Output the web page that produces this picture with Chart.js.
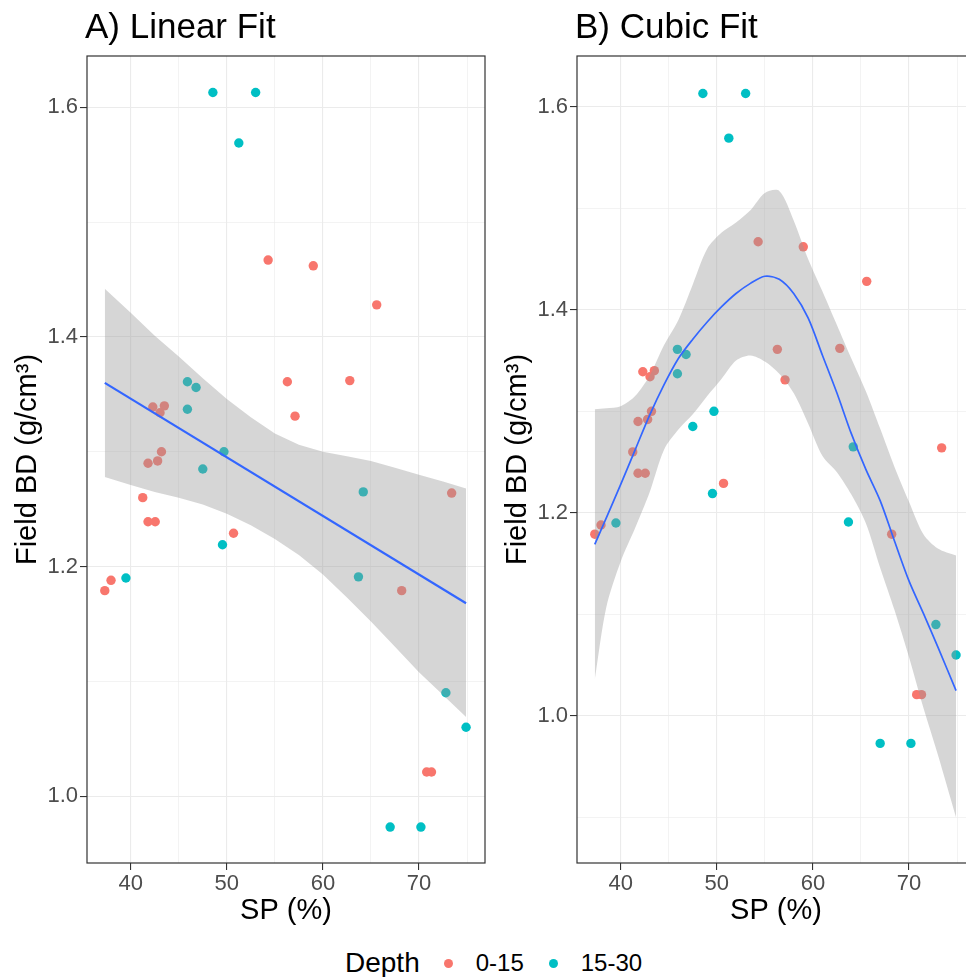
<!DOCTYPE html>
<html>
<head>
<meta charset="utf-8">
<script src="https://cdn.jsdelivr.net/npm/chart.js@4.4.0/dist/chart.umd.min.js"></script>
<style>
  html, body { margin: 0; padding: 0; background: #fff; width: 966px; height: 977px; overflow: hidden; }
  .panel { position: absolute; top: 0; width: 490px; height: 940px; }
  #panelA { left: 0; }
  #panelB { left: 490px; }
  #legend { position: absolute; left: 345px; top: 943px; height: 40px; display: flex; align-items: center;
            font-family: Arial, "Liberation Sans", sans-serif; color: #000; white-space: nowrap; }
  #legend .head { font-size: 28px; margin-right: 24px; }
  #legend .dot { width: 9px; height: 9px; border-radius: 50%; margin-right: 23px; }
  #legend .lab { font-size: 24px; margin-right: 25px; }
</style>
</head>
<body>
<canvas id="panelA" class="panel" width="490" height="940"></canvas>
<canvas id="panelB" class="panel" width="490" height="940"></canvas>
<div id="legend"></div>
<script>
// Depth groups
const depthLevels = ['0-15', '15-30'];
const depthColors = ['#F8766D', '#00BFC4'];

// observations, SP (%) vs field bulk density
const sp0015 = [54.3, 59.0, 65.6, 42.3, 43.5, 43.05, 56.3, 62.8, 57.1, 43.2, 41.8,
                42.8, 73.4, 41.25, 41.8, 42.55, 50.7, 37.95, 37.3, 68.2, 70.8, 71.3];
const bd0015 = [1.467, 1.462, 1.428, 1.339, 1.340, 1.334, 1.361, 1.362, 1.331, 1.300, 1.290,
                1.292, 1.264, 1.260, 1.239, 1.239, 1.229, 1.188, 1.179, 1.179, 1.021, 1.021];
const sp1530 = [48.55, 53.0, 51.25, 45.9, 46.8, 45.9, 49.7, 47.5, 64.2, 49.55, 39.5,
                63.7, 72.8, 74.9, 67.0, 70.2];
const bd1530 = [1.613, 1.613, 1.569, 1.361, 1.356, 1.337, 1.300, 1.285, 1.265, 1.219, 1.190,
                1.191, 1.090, 1.060, 0.973, 0.973];

// A) linear fit and its confidence band
const linearX = [37.3, 74.9];
const linearFit = [1.360, 1.168];
const linearBandX = [37.3, 40, 42.5, 45, 47.5, 50, 52.5, 55, 57.5, 60, 62.5, 65, 67.5, 70, 72.5, 74.9];
const linearUpper = [1.442, 1.421, 1.401, 1.383, 1.364, 1.346, 1.330, 1.316, 1.306, 1.300, 1.296, 1.292, 1.286, 1.280, 1.274, 1.268];
const linearLower = [1.278, 1.271, 1.265, 1.260, 1.254, 1.246, 1.236, 1.224, 1.210, 1.193, 1.173, 1.152, 1.130, 1.108, 1.088, 1.069];

// B) cubic fit and its confidence band
const cubicX = [37.3, 38.5, 40, 41.5, 43, 44.5, 46, 47.5, 49, 50.5, 52, 53.5, 55,
                56.5, 58, 59.5, 61, 62.5, 64, 65.5, 67, 68.5, 70, 71.5, 73, 74.9];
const cubicFit = [1.169, 1.195, 1.228, 1.262, 1.296, 1.326, 1.352, 1.371, 1.388, 1.403, 1.416, 1.426, 1.433,
                  1.430, 1.416, 1.392, 1.355, 1.318, 1.278, 1.243, 1.212, 1.172, 1.133, 1.101, 1.068, 1.025];
const cubicUpper = [1.302, 1.303, 1.305, 1.315, 1.335, 1.365, 1.390, 1.425, 1.460, 1.476, 1.486, 1.498, 1.515,
                    1.517, 1.488, 1.450, 1.418, 1.385, 1.352, 1.320, 1.283, 1.245, 1.211, 1.179, 1.165, 1.158];
const cubicLower = [1.036, 1.107, 1.152, 1.185, 1.220, 1.262, 1.282, 1.297, 1.315, 1.332, 1.350, 1.355, 1.349,
                    1.337, 1.318, 1.288, 1.256, 1.240, 1.218, 1.190, 1.146, 1.104, 1.058, 1.008, 0.962, 0.900];

// ticks
const xMajorTicks = [40, 50, 60, 70];
const xMinorTicks = [45, 55, 65, 75];
const yMajorTicks = [1.0, 1.2, 1.4, 1.6];
const yMinorTicksA = [1.1, 1.3, 1.5];
const yMinorTicksB = [0.9, 1.1, 1.3, 1.5];

const FONT = 'Arial, "Liberation Sans", sans-serif';
const pts = (xs, ys) => xs.map((x, i) => ({ x: x, y: ys[i] }));

// panel title, drawn above the plot box
const panelTitle = {
  id: 'panelTitle',
  afterDraw(chart, args, opts) {
    const { ctx, chartArea } = chart;
    ctx.save();
    ctx.font = `35px ${FONT}`;
    ctx.fillStyle = '#000';
    ctx.textBaseline = 'alphabetic';
    ctx.fillText(opts.text, chartArea.left - 2, 38);
    ctx.restore();
  }
};

// theme_bw style border round the panel
const panelBorder = {
  id: 'panelBorder',
  afterDatasetsDraw(chart) {
    const { ctx, chartArea: a } = chart;
    ctx.save();
    ctx.strokeStyle = '#333333';
    ctx.lineWidth = 1.2;
    ctx.strokeRect(a.left, a.top, a.right - a.left, a.bottom - a.top);
    ctx.restore();
  }
};

function makePanel(canvasId, title, fitX, fitY, bandX, upper, lower, yMin, yMax, yMinor, fitWidth, tension) {
  const isMajorX = v => xMajorTicks.includes(v);
  const isMajorY = v => yMajorTicks.some(m => Math.abs(m - v) < 1e-9);

  return new Chart(document.getElementById(canvasId), {
    type: 'scatter',
    data: {
      datasets: [
        { type: 'line', data: pts(fitX, fitY), borderColor: '#3366FF', borderWidth: fitWidth,
          pointRadius: 0, fill: false, tension: tension, order: 1 },
        { type: 'line', data: pts(bandX, upper), borderColor: 'rgba(0,0,0,0)', borderWidth: 0,
          pointRadius: 0, fill: '+1', backgroundColor: 'rgba(153,153,153,0.4)', tension: tension, order: 2 },
        { type: 'line', data: pts(bandX, lower), borderColor: 'rgba(0,0,0,0)', borderWidth: 0,
          pointRadius: 0, fill: false, tension: tension, order: 2 },
        { label: depthLevels[0], data: pts(sp0015, bd0015), backgroundColor: depthColors[0],
          pointRadius: 4.7, pointBorderWidth: 0, order: 3 },
        { label: depthLevels[1], data: pts(sp1530, bd1530), backgroundColor: depthColors[1],
          pointRadius: 4.7, pointBorderWidth: 0, order: 3 }
      ]
    },
    options: {
      responsive: false,
      animation: false,
      devicePixelRatio: 1,
      layout: { padding: { top: 56, right: 5, left: 0, bottom: 0 } },
      plugins: {
        legend: { display: false },
        tooltip: { enabled: false },
        panelTitle: { text: title }
      },
      scales: {
        x: {
          type: 'linear', min: 35.45, max: 76.87,
          afterBuildTicks: s => { s.ticks = xMajorTicks.concat(xMinorTicks).sort((a, b) => a - b).map(v => ({ value: v })); },
          afterFit: s => { s.height = 77; },
          ticks: {
            autoSkip: false, maxRotation: 0, padding: 1,
            color: '#4d4d4d', font: { family: FONT, size: 22 },
            callback: v => isMajorX(v) ? String(v) : ''
          },
          grid: {
            color: '#ebebeb',
            lineWidth: c => (c.tick && isMajorX(c.tick.value)) ? 1.1 : 0.6,
            tickLength: 7, tickWidth: 1.1,
            tickColor: c => (c.tick && isMajorX(c.tick.value)) ? '#333333' : 'rgba(0,0,0,0)'
          },
          border: { display: false },
          title: { display: true, text: 'SP (%)', color: '#000', font: { family: FONT, size: 29 },
                   padding: { top: 0, bottom: 12 } }
        },
        y: {
          type: 'linear', min: yMin, max: yMax,
          afterBuildTicks: s => { s.ticks = yMajorTicks.concat(yMinor).sort((a, b) => a - b).map(v => ({ value: v })); },
          afterFit: s => { s.width = 87; },
          ticks: {
            autoSkip: false, padding: 2,
            color: '#4d4d4d', font: { family: FONT, size: 22 },
            callback: v => isMajorY(v) ? v.toFixed(1) : ''
          },
          grid: {
            color: '#ebebeb',
            lineWidth: c => (c.tick && isMajorY(c.tick.value)) ? 1.1 : 0.6,
            tickLength: 7, tickWidth: 1.1,
            tickColor: c => (c.tick && isMajorY(c.tick.value)) ? '#333333' : 'rgba(0,0,0,0)'
          },
          border: { display: false },
          title: { display: true, text: 'Field BD (g/cm³)', color: '#000', font: { family: FONT, size: 29 },
                   padding: { top: 11, bottom: 0 } }
        }
      }
    },
    plugins: [panelTitle, panelBorder]
  });
}

makePanel('panelA', 'A) Linear Fit', linearX, linearFit, linearBandX, linearUpper, linearLower,
          0.9417, 1.6448, yMinorTicksA, 2.2, 0);
makePanel('panelB', 'B) Cubic Fit', cubicX, cubicFit, cubicX, cubicUpper, cubicLower,
          0.8552, 1.6499, yMinorTicksB, 1.7, 0.3);

// legend below the panels
const legend = document.getElementById('legend');
const head = document.createElement('span');
head.className = 'head';
head.textContent = 'Depth';
legend.appendChild(head);
depthLevels.forEach((lvl, i) => {
  const dot = document.createElement('span');
  dot.className = 'dot';
  dot.style.background = depthColors[i];
  legend.appendChild(dot);
  const lab = document.createElement('span');
  lab.className = 'lab';
  lab.textContent = lvl;
  legend.appendChild(lab);
});
</script>
</body>
</html>
